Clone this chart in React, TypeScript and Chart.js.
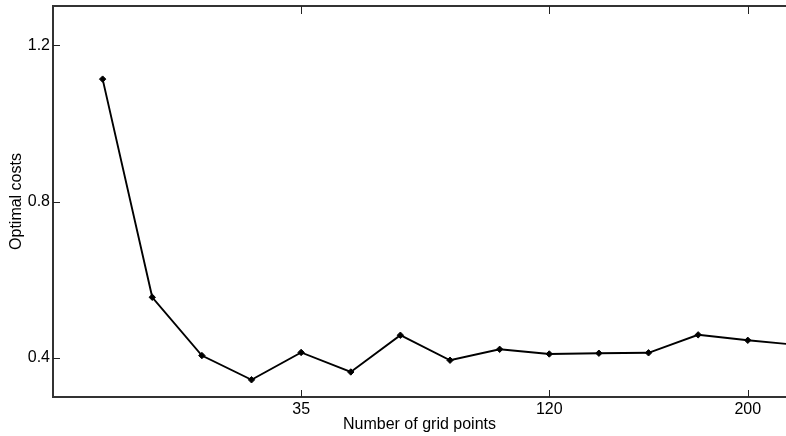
import React, { useEffect, useRef } from "react";
import { Chart, registerables } from "chart.js";

Chart.register(...registerables);

const gridIndex = [1, 2, 3, 4, 5, 6, 7, 8, 9, 10, 11, 12, 13, 14, 15];
const optimalCosts = [1.113, 0.555, 0.406, 0.344, 0.414, 0.364, 0.458, 0.394, 0.422, 0.41, 0.412, 0.413, 0.459, 0.445, 0.433];
const xTickPositions = [5, 10, 14];
const xTickLabels = ["35", "120", "200"];
const yTickValues = [0.4, 0.8, 1.2];

const FONT = "'Liberation Sans', Arial, Helvetica, sans-serif";

const frameTicks = {
  id: "frameTicks",
  afterDraw(chart: any) {
    const { ctx, chartArea } = chart;
    const { left, right, top, bottom } = chartArea;
    const xs = chart.scales.x;
    const ys = chart.scales.y;
    ctx.save();
    ctx.strokeStyle = "#333";
    ctx.lineWidth = 2;
    ctx.beginPath();
    ctx.moveTo(left - 1, top);
    ctx.lineTo(right + 2, top);
    ctx.stroke();
    ctx.lineWidth = 1;
    ctx.strokeStyle = "#222";
    ctx.beginPath();
    for (const t of xs.ticks) {
      const px = Math.round(xs.getPixelForValue(t.value)) + 0.5;
      ctx.moveTo(px, bottom);
      ctx.lineTo(px, bottom - 7);
      ctx.moveTo(px, top);
      ctx.lineTo(px, top + 8);
    }
    for (const t of ys.ticks) {
      const py = Math.round(ys.getPixelForValue(t.value)) + 0.5;
      ctx.moveTo(left, py);
      ctx.lineTo(left + 7, py);
    }
    ctx.stroke();
    ctx.restore();
  },
};

const zeroPad = (s: any) => {
  s.paddingLeft = 0;
  s.paddingRight = 0;
  s.paddingTop = 0;
  s.paddingBottom = 0;
};

export default function App() {
  const ref = useRef<HTMLCanvasElement | null>(null);
  useEffect(() => {
    if (!ref.current) return;
    const chart = new Chart(ref.current, {
      type: "line",
      data: {
        datasets: [
          {
            data: gridIndex.map((x, i) => ({ x, y: optimalCosts[i] })),
            borderColor: "#000",
            backgroundColor: "#000",
            borderWidth: 1.9,
            pointStyle: "rectRot",
            pointRadius: 3.2,
            pointBorderWidth: 1,
            pointBackgroundColor: "#000",
            pointBorderColor: "#000",
            tension: 0,
          },
        ],
      },
      options: {
        animation: false,
        responsive: false,
        devicePixelRatio: 1,
        layout: { autoPadding: false, padding: { top: 6, right: 0, left: 0, bottom: 0 } },
        plugins: { legend: { display: false }, tooltip: { enabled: false } },
        scales: {
          x: {
            type: "linear",
            min: 0,
            max: 14.77,
            position: "bottom",
            afterFit: (s: any) => {
              s.height = 39;
              zeroPad(s);
            },
            afterBuildTicks: (s: any) => {
              s.ticks = xTickPositions.map((v) => ({ value: v }));
            },
            ticks: {
              autoSkip: false,
              maxRotation: 0,
              padding: 3,
              color: "#000",
              font: { family: FONT, size: 16 },
              callback: (v: any) => {
                const i = xTickPositions.indexOf(Number(v));
                return i >= 0 ? xTickLabels[i] : "";
              },
            },
            grid: { display: false, drawTicks: false },
            border: { display: true, color: "#333", width: 2 },
            title: {
              display: true,
              text: "Number of grid points",
              color: "#000",
              font: { family: FONT, size: 16 },
              padding: { top: 0, bottom: 2 },
            },
          },
          y: {
            type: "linear",
            min: 0.3,
            max: 1.3,
            afterFit: (s: any) => {
              s.width = 53;
              zeroPad(s);
            },
            afterBuildTicks: (s: any) => {
              s.ticks = yTickValues.map((v) => ({ value: v }));
            },
            ticks: {
              padding: 3,
              color: "#000",
              font: { family: FONT, size: 16 },
              callback: (v: any) => Number(v).toFixed(1),
            },
            grid: { display: false, drawTicks: false },
            border: { display: true, color: "#333", width: 2 },
            title: {
              display: true,
              text: "Optimal costs",
              color: "#000",
              font: { family: FONT, size: 16 },
              padding: { top: 7, bottom: 0 },
            },
          },
        },
      },
      plugins: [frameTicks],
    });
    return () => chart.destroy();
  }, []);
  return (
    <div style={{ position: "absolute", left: 0, top: 0, width: 786, height: 436, background: "#fff" }}>
      <canvas ref={ref} width={786} height={436} />
    </div>
  );
}
